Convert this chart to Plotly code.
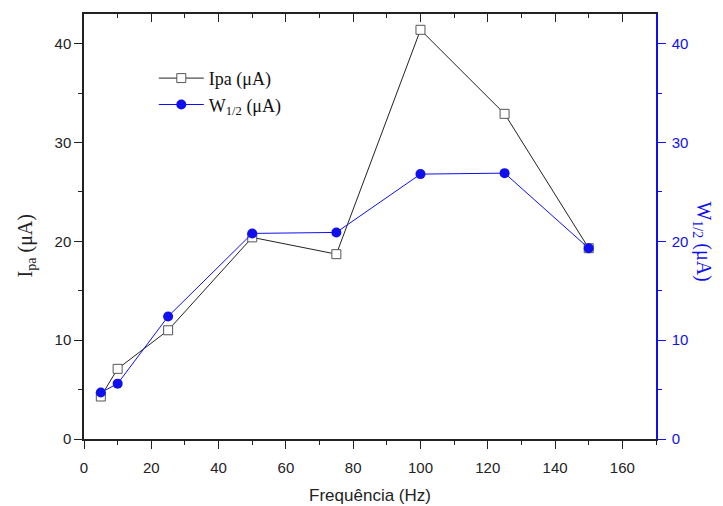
import plotly.graph_objects as go

freq = [5, 10, 25, 50, 75, 100, 125, 150]
ipa = [4.3, 7.1, 11.0, 20.4, 18.7, 41.4, 32.9, 19.3]
w12 = [4.7, 5.6, 12.4, 20.8, 20.9, 26.8, 26.9, 19.3]

BLUE = "#1010ee"
fig = go.Figure()
fig.add_trace(go.Scatter(
    x=freq, y=ipa, mode="lines+markers", name="Ipa (μA)",
    line=dict(color="#222222", width=1),
    marker=dict(symbol="square", size=9, color="white", line=dict(color="#555555", width=1)),
))
fig.add_trace(go.Scatter(
    x=freq, y=w12, mode="lines+markers", name="W<sub>1/2</sub> (μA)", yaxis="y2",
    line=dict(color=BLUE, width=1),
    marker=dict(symbol="circle", size=10, color=BLUE),
))
fig.add_trace(go.Scatter(x=[None], y=[None], xaxis="x2", showlegend=False, hoverinfo="skip"))

tickfont = dict(family="Liberation Sans, Arial", size=15, color="#222")
serif = "Liberation Serif, Times New Roman"
fig.update_layout(
    width=723, height=506,
    margin=dict(l=76, r=75, t=6, b=75, autoexpand=False),
    plot_bgcolor="white", paper_bgcolor="white",
    showlegend=True,
    legend=dict(x=0.122, y=0.892, xanchor="left", yanchor="top", bgcolor="rgba(0,0,0,0)",
                font=dict(family=serif, size=18, color="#111"),
                tracegroupgap=0, itemwidth=45),
    xaxis=dict(range=[0, 170], dtick=20, tick0=0, ticks="outside", ticklen=8, tickwidth=1,
               tickcolor="#222", showline=True, linecolor="#222", linewidth=1.5,
               showgrid=False, zeroline=False, tickfont=tickfont, automargin=False,
               ticklabelstandoff=6,
               minor=dict(dtick=10, ticks="outside", ticklen=4, tickcolor="#222"),
               title=dict(text="Frequência (Hz)", font=dict(family="Liberation Sans, Arial", size=17, color="#222"), standoff=14)),
    xaxis2=dict(range=[0, 170], overlaying="x", side="top", dtick=20, ticks="inside", ticklen=8,
                tickcolor="#222", showline=True, linecolor="#222", linewidth=1.5, showticklabels=False,
                showgrid=False, zeroline=False, automargin=False,
                minor=dict(dtick=10, ticks="inside", ticklen=4, tickcolor="#222")),
    yaxis=dict(range=[0, 43], dtick=10, ticks="outside", ticklen=8, tickcolor="#222",
               showline=True, linecolor="#222", linewidth=1.5, showgrid=False, zeroline=False,
               tickfont=tickfont, automargin=False,
               minor=dict(dtick=5, ticks="outside", ticklen=4, tickcolor="#222")),
    yaxis2=dict(range=[0, 43], dtick=10, overlaying="y", side="right", ticks="outside", ticklen=8,
                tickcolor=BLUE, showline=True, linecolor=BLUE, linewidth=1.5, showgrid=False, zeroline=False,
                tickfont=dict(family="Liberation Sans, Arial", size=15, color=BLUE), automargin=False,
                ticklabelstandoff=3,
                minor=dict(dtick=5, ticks="outside", ticklen=4, tickcolor=BLUE)),
    annotations=[
        dict(text="I<sub>pa</sub> (μA)", xref="paper", yref="paper", x=-0.10, y=0.455,
             textangle=-90, showarrow=False, xanchor="center", yanchor="middle",
             font=dict(family=serif, size=20, color="#222")),
        dict(text="W<sub>1/2</sub> (μA)", xref="paper", yref="paper", x=1.082, y=0.465,
             textangle=90, showarrow=False, xanchor="center", yanchor="middle",
             font=dict(family=serif, size=20, color=BLUE)),
    ],
)
fig.write_html("out.html")
